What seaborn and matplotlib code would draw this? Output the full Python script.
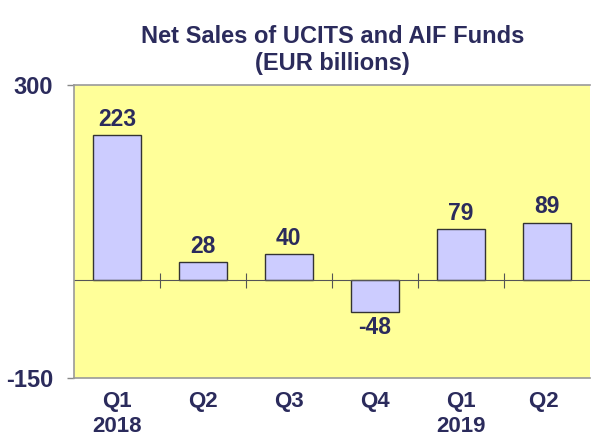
import matplotlib
matplotlib.use("Agg")
import matplotlib.pyplot as plt
import seaborn as sns
import pandas as pd

quarters = ["Q1\n2018", "Q2", "Q3", "Q4", "Q1\n2019", "Q2 "]
net_sales = [223, 28, 40, -48, 79, 89]
y_ticks = [-150, 300]

sns.set_style("white")
plt.rcParams['font.family'] = ['Liberation Sans', 'DejaVu Sans']

navy = "#2B2B5C"
df = pd.DataFrame({"q": quarters, "v": net_sales})

fig = plt.figure(figsize=(5.91, 4.37), dpi=100)
ax = fig.add_axes([0.125, 0.135, 0.873, 0.670])
ax.set_facecolor("#FFFF99")

sns.barplot(data=df, x="q", y="v", order=quarters, color="#CCCCFF",
            saturation=1, edgecolor="#333333", linewidth=1.0, width=0.56, ax=ax)

ax.set_ylim(-150, 300)
ax.set_yticks(y_ticks)
ax.set_yticklabels([str(t) for t in y_ticks], fontsize=17, fontweight="bold", color=navy)
ax.set_xticks(range(len(quarters)))
ax.set_xticklabels(quarters, fontsize=16, fontweight="bold", color=navy, linespacing=1.3)
ax.tick_params(axis="x", length=0, pad=9)
ax.tick_params(axis="y", length=5, color="#888888", width=1, pad=10, left=True)
ax.set_xlabel("")
ax.set_ylabel("")
ax.set_xlim(-0.5, len(quarters) - 0.5)

ax.axhline(0, color="#555555", linewidth=0.8, zorder=1)
for i in range(1, len(quarters)):
    ax.vlines(i - 0.5, -12, 12, color="#555555", linewidth=0.8, zorder=1)

for s in ["left", "bottom", "top"]:
    ax.spines[s].set_color("#999999")
    ax.spines[s].set_linewidth(1.2)
ax.spines["right"].set_visible(False)

for c in ax.containers:
    labels = [f"{v:.0f}" for v in c.datavalues]
    ax.bar_label(c, labels=labels, padding=3, fontsize=16.5, fontweight="bold", color=navy)

fig.text(0.563, 0.886, "Net Sales of UCITS and AIF Funds\n(EUR billions)", ha="center", va="center",
         fontsize=17, fontweight="bold", color=navy, linespacing=1.2)

fig.savefig("out.png", dpi=100)
